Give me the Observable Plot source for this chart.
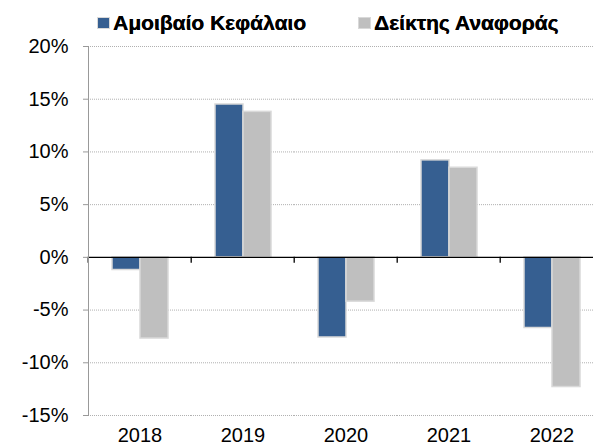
<!DOCTYPE html>
<html>
<head>
<meta charset="utf-8">
<script src="https://cdn.jsdelivr.net/npm/d3@7"></script>
<script src="https://cdn.jsdelivr.net/npm/@observablehq/plot@0.6"></script>
<style>
  html, body { margin: 0; padding: 0; background: #fff; overflow: hidden; }
  #wrap { position: relative; width: 593px; height: 445px; font-family: Arial, "Liberation Sans", sans-serif; }
  .leg { position: absolute; top: 12px; height: 22px; display: flex; align-items: center; color: #000; white-space: nowrap; }
  .leg b { font-family: Arial, "Liberation Sans", sans-serif; font-weight: bold; font-size: 21px; text-shadow: 0.3px 0 0 #000; }
  .sw { width: 11px; height: 10px; border: 1px solid #d9d9d9; margin-right: 3px; }
  #chart { position: absolute; left: 0; top: 0; }
</style>
</head>
<body>
<div id="wrap">
  <div id="chart"></div>
  <div id="legend"></div>
</div>
<script>
const years = ["2018", "2019", "2020", "2021", "2022"];
const series = ["Αμοιβαίο Κεφάλαιο", "Δείκτης Αναφοράς"];
const fund = [-1.2, 14.5, -7.6, 9.2, -6.7];
const benchmark = [-7.7, 13.8, -4.2, 8.5, -12.3];
const yTicks = [-15, -10, -5, 0, 5, 10, 15, 20];
const colors = ["#365F91", "#BFBFBF"];

const data = years.flatMap((yr, i) => [
  {year: yr, series: series[0], value: fund[i]},
  {year: yr, series: series[1], value: benchmark[i]}
]);

const fxRange = [86, 604];
const step = (fxRange[1] - fxRange[0]) / years.length;

const chart = Plot.plot({
  width: 593,
  height: 445,
  marginTop: 46,
  marginBottom: 30,
  marginLeft: 86,
  marginRight: 0,
  style: {fontFamily: "Arial, 'Liberation Sans', sans-serif", fontSize: "20px", background: "transparent", color: "#000"},
  fx: {domain: years, range: fxRange, paddingInner: 0, paddingOuter: 0, label: null},
  x: {domain: series, paddingInner: 0, paddingOuter: 0.786, axis: null},
  y: {domain: [-15, 20], label: null},
  color: {domain: series, range: colors},
  marks: [
    Plot.gridY(yTicks.filter(d => d !== 0), {stroke: "#b0b0b0", strokeOpacity: 1, strokeDasharray: "1,1"}),
    Plot.barY(data, {fx: "year", x: "series", y: "value", fill: "series", stroke: "#d9d9d9", strokeWidth: 1.5}),
    Plot.ruleY([0], {stroke: "#000", strokeWidth: 1.3}),
    Plot.ruleX(years, {fx: d => d, x: null, y1: 0, y2: 0, insetBottom: -6, dx: -step / 2, stroke: "#000", strokeWidth: 1.3}),
    Plot.frame({anchor: "left", stroke: "#999", facetAnchor: "left"}),
    Plot.axisY({ticks: yTicks, tickFormat: d => `${d}%`, tickSize: 5, tickPadding: 15, fontSize: 20, stroke: "#999", color: "#000", label: null}),
    Plot.axisFx({anchor: "bottom", tickSize: 0, tickPadding: 12, fontSize: 20, label: null})
  ]
});
document.getElementById("chart").appendChild(chart);

const legend = document.getElementById("legend");
const legX = [97, 358];
series.forEach((s, i) => {
  const item = document.createElement("div");
  item.className = "leg";
  item.style.left = legX[i] + "px";
  const sw = document.createElement("span");
  sw.className = "sw";
  sw.style.background = colors[i];
  const t = document.createElement("b");
  t.textContent = s;
  item.appendChild(sw);
  item.appendChild(t);
  legend.appendChild(item);
});
</script>
</body>
</html>
